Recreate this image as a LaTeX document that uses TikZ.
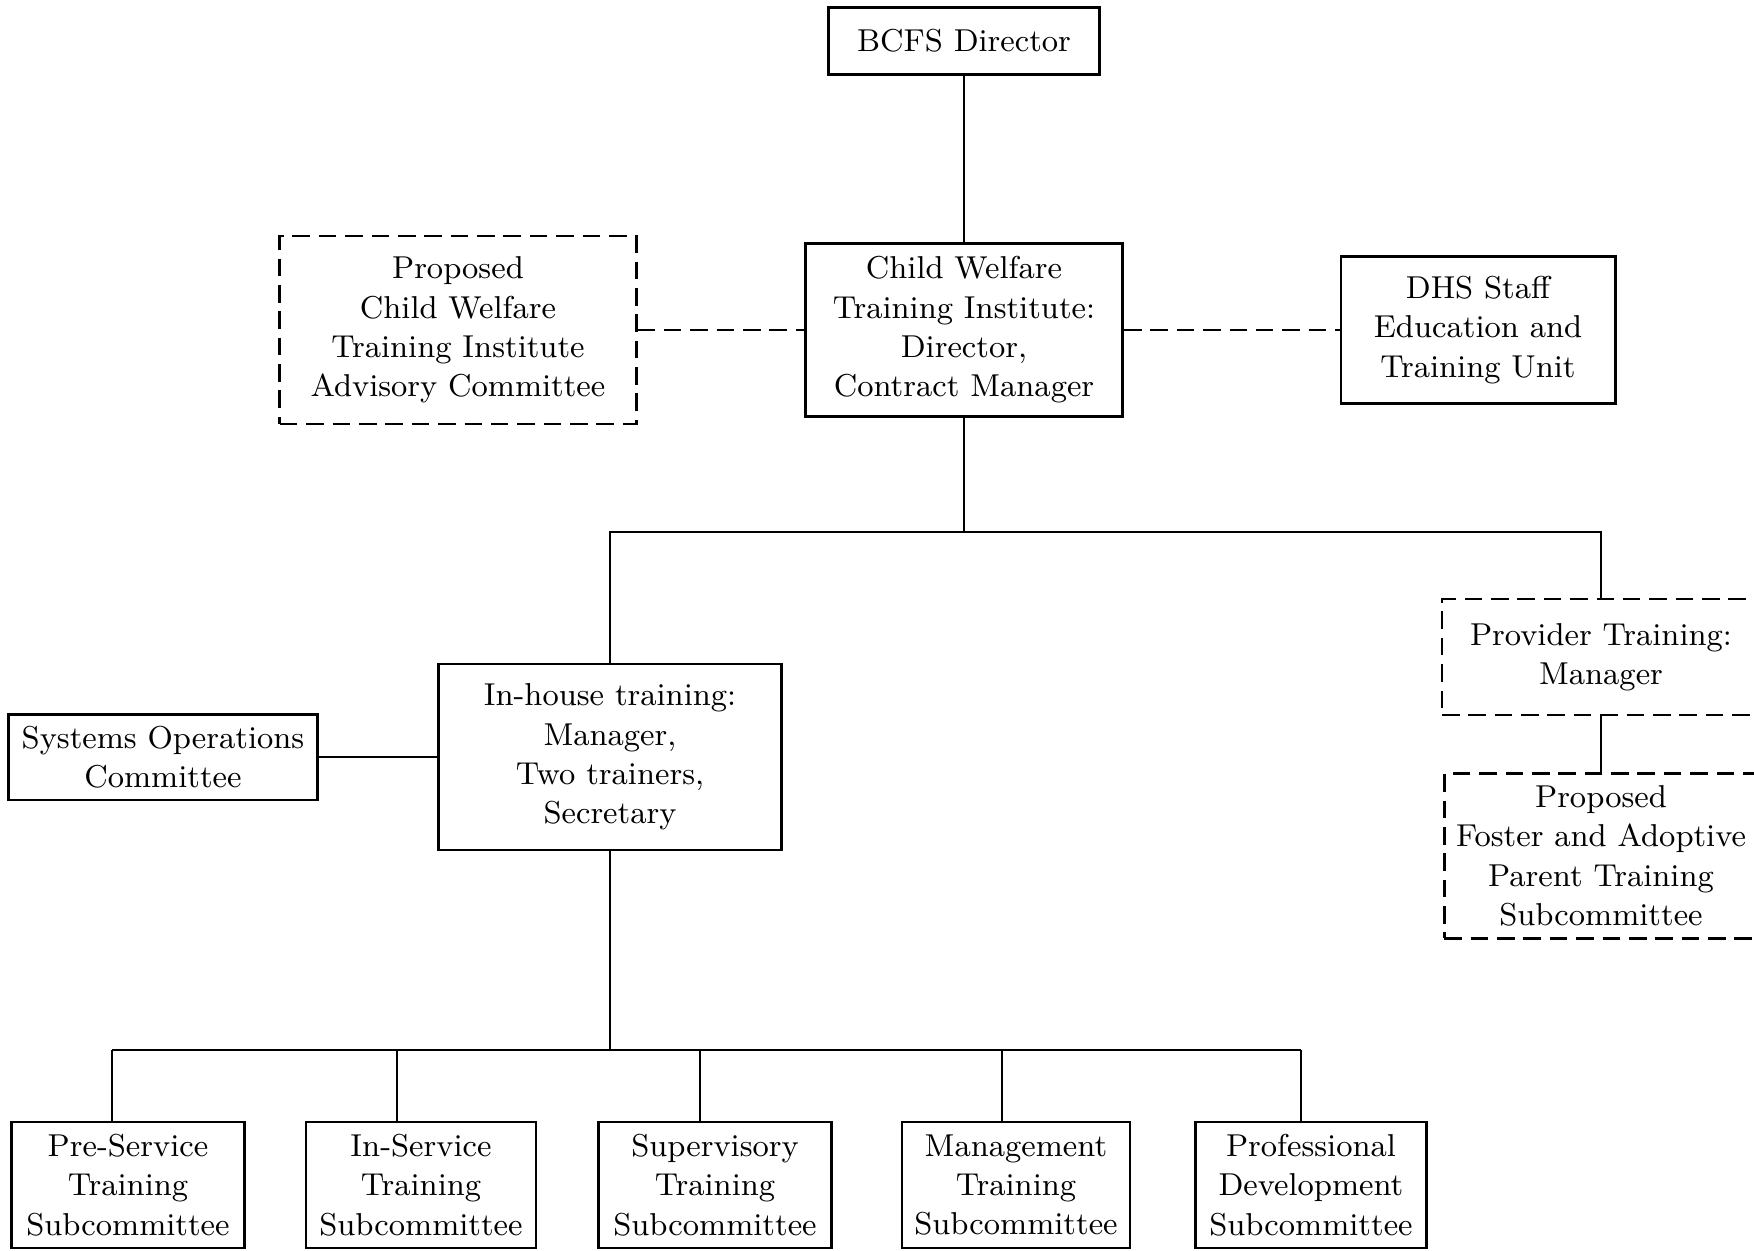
\documentclass[tikz,border=0pt]{standalone}
\usepackage{tikz}
\usetikzlibrary{positioning,calc}
\tikzset{
block/.style = {draw, fill=white, rectangle, align=center, line width=0.8pt, font=\fontsize{9}{11.2}\selectfont},
dblock/.style = {block, dash pattern=on 5pt off 2.5pt},
tmp/.style = {coordinate},
link/.style = {line width=0.8pt},
dlink/.style = {link, dash pattern=on 5pt off 2.5pt}
}
\begin{document}
\begin{tikzpicture}[x=0.01cm, y=-0.01cm]
\useasboundingbox (0,0) rectangle (1754,1250);
\node[block, minimum width=2.71cm, minimum height=0.67cm] (bcfs) at (964,41) {BCFS Director};
\node[block, minimum width=3.17cm, minimum height=1.73cm] (cwti) at (964,330) {Child Welfare\\Training Institute:\\Director,\\Contract Manager};
\node[dblock, minimum width=3.56cm, minimum height=1.88cm] (adv) at (458,330) {Proposed\\Child Welfare\\Training Institute\\Advisory Committee};
\node[block, minimum width=2.74cm, minimum height=1.47cm] (dhs) at (1478,330) {DHS Staff\\Education and\\Training Unit};
\node[block, minimum width=3.43cm, minimum height=1.86cm] (inhouse) at (610,757) {In-house training:\\Manager,\\Two trainers,\\Secretary};
\node[block, minimum width=3.09cm, minimum height=0.85cm] (sysops) at (163,757) {Systems Operations\\Committee};
\node[dblock, minimum width=3.18cm, minimum height=1.16cm] (provider) at (1601,657) {Provider Training:\\Manager};
\node[dblock, minimum width=3.05cm, minimum height=1.62cm] (foster) at (1601,856) {Proposed\\Foster and Adoptive\\Parent Training\\Subcommittee};
\node[block, minimum width=2.33cm, minimum height=1.26cm] (pre) at (128,1185) {Pre-Service\\Training\\Subcommittee};
\node[block, minimum width=2.30cm, minimum height=1.26cm] (insvc) at (421,1185) {In-Service\\Training\\Subcommittee};
\node[block, minimum width=2.33cm, minimum height=1.26cm] (sup) at (715,1185) {Supervisory\\Training\\Subcommittee};
\node[block, minimum width=2.28cm, minimum height=1.26cm] (mgmt) at (1016,1185) {Management\\Training\\Subcommittee};
\node[block, minimum width=2.31cm, minimum height=1.26cm] (prof) at (1311,1185) {Professional\\Development\\Subcommittee};
\node[tmp] (split) at (964,532) {};
\node[tmp] (split2) at (610,1050) {};
\node[tmp] (d1) at (112,1050) {};
\node[tmp] (d2) at (397,1050) {};
\node[tmp] (d3) at (700,1050) {};
\node[tmp] (d4) at (1002,1050) {};
\node[tmp] (d5) at (1301,1050) {};
\draw[link] (bcfs) -- (cwti);
\draw[dlink] (adv) -- (cwti);
\draw[dlink] (cwti) -- (dhs);
\draw[link] (cwti) -- (split);
\draw[link] (inhouse) |- (split) -| (provider);
\draw[link] (provider) -- (foster);
\draw[link] (sysops) -- (inhouse);
\draw[link] (inhouse) -- (split2);
\draw[link] (d1) -- (d5);
\draw[link] (d1) -- (d1 |- pre.north);
\draw[link] (d2) -- (d2 |- insvc.north);
\draw[link] (d3) -- (d3 |- sup.north);
\draw[link] (d4) -- (d4 |- mgmt.north);
\draw[link] (d5) -- (d5 |- prof.north);
\end{tikzpicture}
\end{document}
